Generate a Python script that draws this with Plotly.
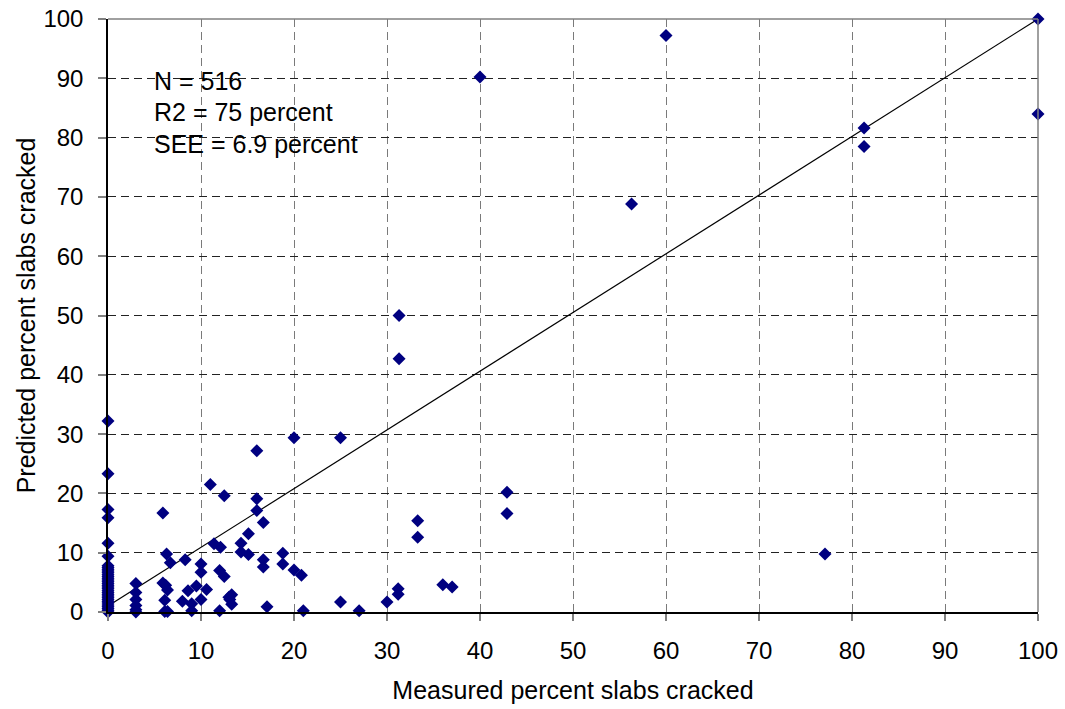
import plotly.graph_objects as go

measured = [0, 0, 0, 0, 0, 0, 0, 0, 0, 0, 0, 0, 0, 0, 0, 0, 0, 0, 0, 0, 0, 0, 0, 0, 0, 0, 0,
            0, 0, 0, 0, 0, 0,
            3, 3, 3, 3, 3, 3,
            5.9, 5.9, 6.2, 6.4, 6.1, 6.1, 6.4, 6.3, 6.7, 8.3, 8.0, 8.6, 9.0, 9.0, 9.5,
            10.0, 10.0, 10.0, 10.6, 11.0, 12.5, 12.0, 11.4, 12.1, 12.0, 12.5,
            13.1, 13.3, 13.3, 13.0, 14.3, 14.3, 15.1, 15.1, 16.0, 16.0, 16.0,
            16.7, 16.7, 16.7, 17.1, 18.8, 18.8, 20.0, 20.0, 20.8, 21.0, 25.0, 25.0,
            27.0, 30.0, 31.2, 31.2, 31.3, 31.3, 33.3, 33.3, 36.0, 37.0, 40.0,
            42.9, 42.9, 56.3, 60.0, 77.1, 81.3, 81.3, 100, 100]
predicted = [0, 0.3, 0.6, 0.9, 1.2, 1.5, 1.8, 2.1, 2.4, 2.7, 3.0, 3.3, 3.6, 3.9, 4.2, 4.5, 4.8,
             5.1, 5.4, 5.7, 6.0, 6.3, 6.6, 6.9, 7.2, 7.5, 7.8,
             9.4, 11.6, 15.9, 17.3, 23.3, 32.2,
             0.0, 0.4, 1.1, 2.1, 3.3, 4.8,
             16.7, 4.9, 4.5, 3.7, 2.0, 0.1, 0.1, 9.8, 8.3, 8.8, 1.8, 3.6, 1.4, 0.2, 4.4,
             8.1, 6.7, 2.1, 3.8, 21.5, 19.6, 0.2, 11.5, 10.9, 7.0, 6.0,
             2.1, 2.9, 1.3, 2.5, 11.6, 10.1, 13.2, 9.7, 27.2, 19.1, 17.1,
             15.1, 8.8, 7.6, 0.9, 9.9, 8.1, 29.4, 7.1, 6.2, 0.2, 29.4, 1.7,
             0.2, 1.7, 3.9, 3.0, 50.0, 42.7, 15.4, 12.6, 4.6, 4.2, 90.2,
             20.2, 16.6, 68.8, 97.2, 9.8, 81.6, 78.5, 100, 84.0]

fit_x = [0, 100]
fit_y = [1, 100]

stats_lines = ["N = 516", "R2 = 75 percent", "SEE = 6.9 percent"]
stats_y = [89.6, 84.4, 78.9]

tick_vals = [0, 10, 20, 30, 40, 50, 60, 70, 80, 90, 100]

FONT = "Liberation Sans, Arial, sans-serif"

fig = go.Figure()
fig.add_trace(go.Scatter(x=fit_x, y=fit_y, mode="lines",
                         line=dict(color="black", width=1.2),
                         showlegend=False, hoverinfo="skip"))
fig.add_trace(go.Scatter(x=measured, y=predicted, mode="markers",
                         marker=dict(symbol="diamond", size=10, color="#000080",
                                     line=dict(width=0)),
                         cliponaxis=False, showlegend=False))

for txt, yy in zip(stats_lines, stats_y):
    fig.add_annotation(x=4.7, y=yy, xref="x", yref="y", text=txt, showarrow=False,
                       xanchor="left", yanchor="middle",
                       font=dict(family=FONT, size=25, color="black"))

# gray plot-area border at top and right
fig.add_shape(type="line", xref="paper", yref="paper", x0=0, x1=1, y0=1, y1=1,
              line=dict(color="#808080", width=1.5))
fig.add_shape(type="line", xref="paper", yref="paper", x0=1, x1=1, y0=0, y1=1,
              line=dict(color="#808080", width=1.5))

fig.update_layout(
    width=1065, height=709,
    margin=dict(l=108, r=27, t=19, b=97),
    paper_bgcolor="white", plot_bgcolor="white",
    font=dict(family=FONT, size=24, color="black"),
    xaxis=dict(range=[0, 100], tickvals=tick_vals, showgrid=True, automargin=False,
               gridcolor="#7a7a7a", griddash="8px,5px", gridwidth=1.3,
               showline=True, linecolor="black", linewidth=1.5,
               ticks="outside", ticklen=7, tickcolor="#808080", tickwidth=1.5,
               ticklabelstandoff=9,
               zeroline=False, tickfont=dict(family=FONT, size=24),
               title=dict(text="Measured percent slabs cracked",
                          font=dict(family=FONT, size=25), standoff=19)),
    yaxis=dict(range=[0, 100], tickvals=tick_vals, showgrid=True, automargin=False,
               gridcolor="#222222", griddash="8px,5px", gridwidth=1,
               showline=True, linecolor="black", linewidth=1.5,
               ticks="outside", ticklen=8, tickcolor="#808080", tickwidth=1.5,
               ticklabelstandoff=10,
               zeroline=False, tickfont=dict(family=FONT, size=24),
               title=dict(text="Predicted percent slabs cracked",
                          font=dict(family=FONT, size=25), standoff=1)),
)

fig.write_html("out.html")
